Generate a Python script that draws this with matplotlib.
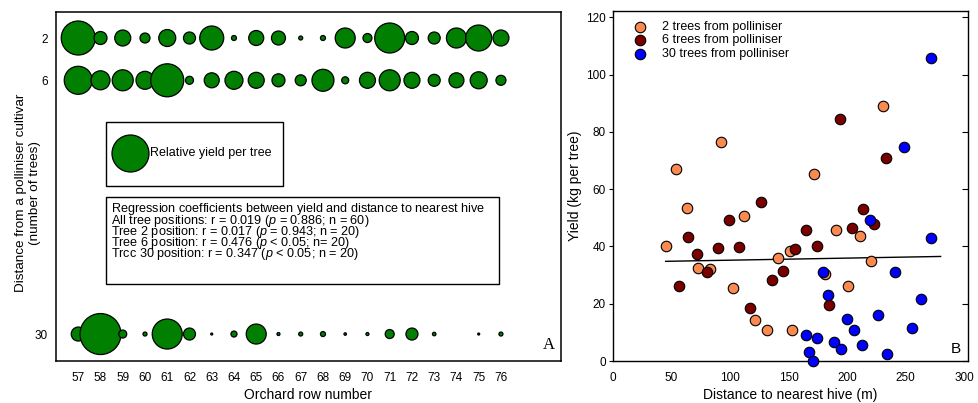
import matplotlib
matplotlib.use("Agg")
import matplotlib.pyplot as plt
from matplotlib.patches import Rectangle
import matplotlib.lines as mlines

plt.rcParams['font.family'] = ['Liberation Sans', 'DejaVu Sans']
plt.rcParams['mathtext.fontset'] = 'custom'
plt.rcParams['mathtext.rm'] = 'Liberation Sans'
plt.rcParams['mathtext.it'] = 'Liberation Sans:italic'

# ---------------- Panel A data ----------------
rows = list(range(57, 77))
positions = [2, 6, 30]
# relative yield per tree (bubble diameter units)
yield_pos2 = [34, 13, 16, 10, 17, 12, 24, 5, 15, 14, 4, 5, 20, 9, 30, 13, 12, 20, 26, 16]
yield_pos6 = [28, 19, 21, 18, 33, 8, 15, 18, 16, 13, 11, 22, 7, 16, 21, 16, 12, 15, 17, 10]
yield_pos30 = [14, 41, 8, 4, 30, 12, 2, 6, 20, 3, 4, 5, 2.5, 3, 9, 12, 3.5, 0, 2, 4]
legend_bubble = 37

reg_lines = [
    r"Regression coefficients between yield and distance to nearest hive$\,$",
    "All tree positions: r = 0.019 ($p$ = 0.886; n = 60)",
    "Tree 2 position: r = 0.017 ($p$ = 0.943; n = 20)",
    "Tree 6 position: r = 0.476 ($p$ < 0.05; n= 20)",
    "Trcc 30 position: r = 0.347 ($p$ < 0.05; n = 20)",
]

# ---------------- Panel B data ----------------
dist_2 = [54, 92.3, 171.4, 230.6, 44.9, 62.9, 111.7, 72.6, 83.1, 102.3,
          121.7, 131.4, 141.1, 150.9, 153.1, 181.4, 190.9, 201.1, 210.9, 220.6]
yld_2 = [66.9, 76.4, 65.2, 89.1, 40.1, 53.4, 50.5, 32.5, 32.2, 25.5,
         14.2, 10.8, 35.9, 38.3, 10.8, 30.3, 45.7, 26.2, 43.6, 34.9]
dist_6 = [194.3, 233.4, 56.6, 64.0, 72.0, 80.6, 89.4, 98.9, 107.7, 117.1,
          126.3, 135.7, 145.7, 155.7, 164.9, 174.6, 184.3, 204.0, 213.7, 223.4]
yld_6 = [84.4, 70.9, 26.2, 43.4, 37.3, 31.0, 39.4, 49.1, 39.9, 18.4,
         55.4, 28.2, 31.5, 39.1, 45.7, 40.1, 19.7, 46.6, 53.1, 47.8]
dist_30 = [271.4, 248.3, 179.1, 183.4, 165.1, 167.7, 171.1, 174.6, 188.6, 194.6,
           199.7, 206.3, 212.6, 219.4, 226.9, 234.0, 240.6, 255.7, 263.4, 272.0]
yld_30 = [105.7, 74.6, 30.9, 23.1, 9.2, 3.1, 0.0, 7.9, 6.8, 4.2,
          14.7, 10.8, 5.5, 49.1, 16.0, 2.6, 30.9, 11.5, 21.6, 43.1]
fit_x = [45, 280]
fit_y = [34.8, 36.5]

GREEN = '#007F00'
ORANGE = '#FA8A50'
DARKRED = '#7A0000'
BLUE = '#0000FF'

W, H = 979, 403
fig = plt.figure(figsize=(W / 100, H / 100), dpi=100)


def fx(px):
    return px / W


def fy(py):
    return 1 - py / H


PT = 0.72  # points per pixel

# ---------------- Panel A ----------------
AX0, AX1, AY0, AY1 = 56, 561, 12, 361
aw, ah = AX1 - AX0, AY1 - AY0


def ax_x(px):
    return (px - AX0) / aw


def ax_y(py):
    return 1 - (py - AY0) / ah


axA = fig.add_axes([fx(AX0), fy(AY1), fx(AX1) - fx(AX0), fy(AY0) - fy(AY1)])
for pos, vals in zip(positions, [yield_pos2, yield_pos6, yield_pos30]):
    sizes = [(v * PT) ** 2 for v in vals]
    axA.scatter(rows, [pos] * len(rows), s=sizes, c=GREEN, edgecolors='black',
                linewidths=0.9, zorder=3, clip_on=False)
axA.set_xlim(56.0, 78.7)
axA.set_ylim(32.55, -0.46)
axA.set_xticks(rows)
axA.set_yticks(positions)
axA.tick_params(axis='both', length=0, labelsize=8.5)
axA.tick_params(axis='x', pad=8)
axA.tick_params(axis='y', pad=6)
axA.set_xlabel("Orchard row number", fontsize=10, labelpad=3)
axA.set_ylabel("Distance from a polliniser cultivar\n(number of trees)", fontsize=9.7,
               linespacing=1.2)
axA.yaxis.set_label_coords(ax_x(28), 0.5 - (193 - 186.5) / ah)
axA.yaxis.label.set_va('center')
for sp in axA.spines.values():
    sp.set_linewidth(1.1)

# legend box
axA.add_patch(Rectangle((ax_x(106), ax_y(186)), ax_x(283) - ax_x(106),
                        ax_y(122) - ax_y(186), transform=axA.transAxes, fill=False,
                        lw=1.0, ec='black'))
axA.scatter([ax_x(130)], [ax_y(153)], s=(legend_bubble * PT) ** 2,
            c=GREEN, edgecolors='black', linewidths=0.9, transform=axA.transAxes,
            clip_on=False, zorder=4)
axA.text(ax_x(150), ax_y(153), "Relative yield per tree",
         transform=axA.transAxes, fontsize=9, va='center', ha='left')

# regression box
axA.add_patch(Rectangle((ax_x(106), ax_y(284)), ax_x(499) - ax_x(106),
                        ax_y(197) - ax_y(284), transform=axA.transAxes, fill=False,
                        lw=1.0, ec='black'))
axA.text(ax_x(111), ax_y(257), "\n".join(reg_lines), transform=axA.transAxes,
         fontsize=9.1, va='baseline', ha='left', linespacing=0.56)

axA.text(ax_x(549), ax_y(345), "A", transform=axA.transAxes,
         fontsize=12, family='Liberation Serif', ha='center', va='center')

# ---------------- Panel B ----------------
axB = fig.add_axes([fx(613), fy(361), fx(968) - fx(613), fy(11) - fy(361)])
ms = (10.5 * PT) ** 2
axB.scatter(dist_2, yld_2, s=ms, c=ORANGE, edgecolors='black', linewidths=0.8,
            zorder=3, clip_on=False, label="2 trees from polliniser")
axB.scatter(dist_6, yld_6, s=ms, c=DARKRED, edgecolors='black', linewidths=0.8,
            zorder=3, clip_on=False, label="6 trees from polliniser")
axB.scatter(dist_30, yld_30, s=ms, c=BLUE, edgecolors='black', linewidths=0.8,
            zorder=3, clip_on=False, label="30 trees from polliniser")
axB.plot(fit_x, fit_y, color='black', lw=1.0, zorder=2)
axB.set_xlim(0, 303.4)
axB.set_ylim(0, 122.2)
axB.set_xticks([0, 50, 100, 150, 200, 250, 300])
axB.set_yticks([0, 20, 40, 60, 80, 100, 120])
axB.tick_params(axis='y', direction='out', length=3, width=0.8, labelsize=8.5, pad=2,
                right=True)
axB.tick_params(axis='x', length=0, labelsize=8.5, pad=8)
axB.set_xlabel("Distance to nearest hive (m)", fontsize=10, labelpad=3)
axB.set_ylabel("Yield (kg per tree)", fontsize=10, labelpad=3)
for sp in axB.spines.values():
    sp.set_linewidth(1.0)
# inward ticks on the right spine
for t in axB.yaxis.get_major_ticks():
    t.tick2line.set_marker(mlines.TICKLEFT)
    t.tick2line.set_markersize(4)

leg = axB.legend(loc='upper left', bbox_to_anchor=(0.058, 0.972), frameon=False,
                 fontsize=9, handletextpad=1.3, labelspacing=0.12, borderpad=0,
                 borderaxespad=0, handlelength=1.0, markerscale=1.0)
axB.text(0.966, 0.034, "B", transform=axB.transAxes, fontsize=11, ha='center',
         va='center')

fig.savefig("out.png", dpi=100)
